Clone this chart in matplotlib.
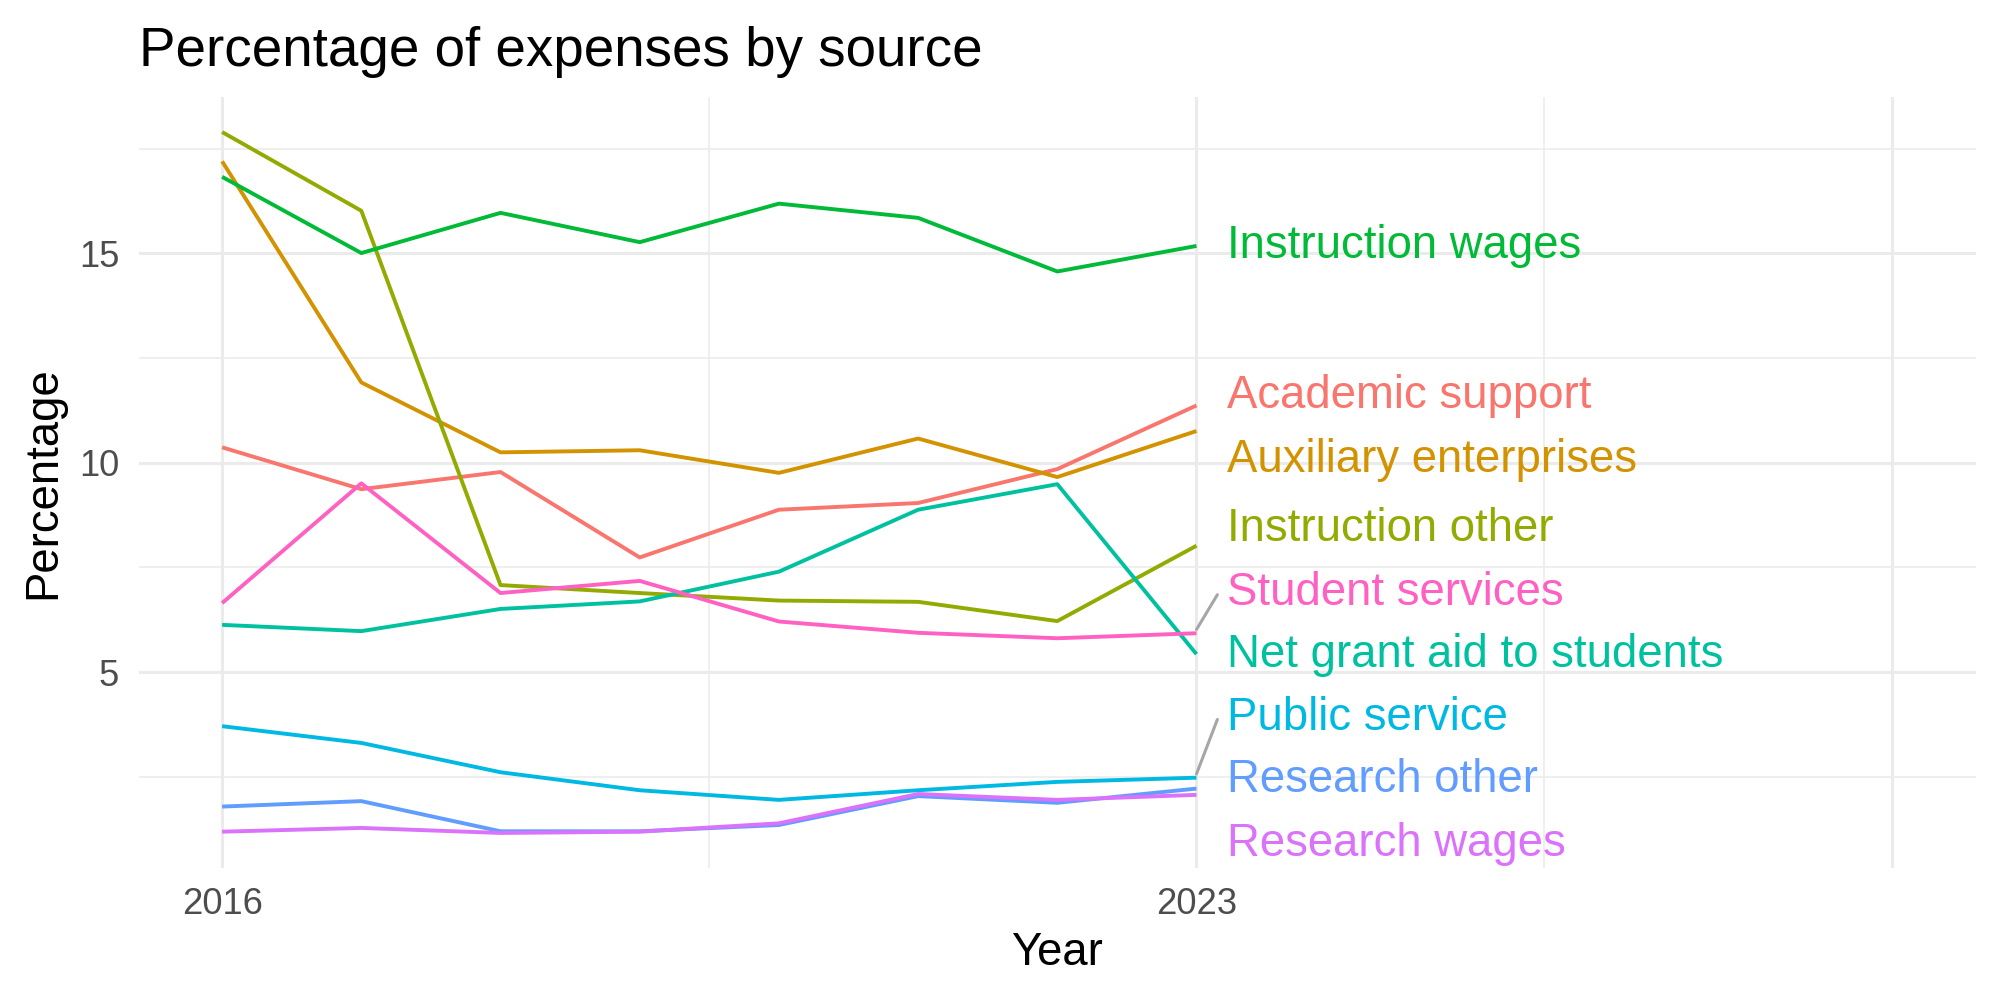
import numpy as np
import matplotlib
matplotlib.use("Agg")
import matplotlib.pyplot as plt

plt.rcParams['font.family'] = ['Liberation Sans', 'DejaVu Sans']

years = [2016, 2017, 2018, 2019, 2020, 2021, 2022, 2023]

sources = ["Academic support", "Auxiliary enterprises", "Instruction other",
           "Instruction wages", "Net grant aid to students", "Public service",
           "Research other", "Research wages", "Student services"]

academic_support = [10.37, 9.37, 9.78, 7.74, 8.88, 9.04, 9.85, 11.37]
auxiliary_enterprises = [17.20, 11.92, 10.25, 10.30, 9.76, 10.58, 9.66, 10.76]
instruction_other = [17.90, 16.02, 7.08, 6.89, 6.71, 6.68, 6.22, 8.02]
instruction_wages = [16.83, 15.01, 15.97, 15.27, 16.19, 15.85, 14.57, 15.18]
net_grant_aid = [6.13, 5.98, 6.51, 6.69, 7.40, 8.88, 9.49, 5.43]
public_service = [3.71, 3.31, 2.61, 2.18, 1.95, 2.18, 2.38, 2.48]
research_other = [1.79, 1.92, 1.20, 1.20, 1.35, 2.04, 1.88, 2.22]
research_wages = [1.19, 1.28, 1.16, 1.19, 1.39, 2.09, 1.95, 2.07]
student_services = [6.65, 9.51, 6.89, 7.18, 6.21, 5.94, 5.81, 5.93]

values = [academic_support, auxiliary_enterprises, instruction_other,
          instruction_wages, net_grant_aid, public_service,
          research_other, research_wages, student_services]

# ggplot hue palette for 9 groups
colors = ["#F8766D", "#D39200", "#93AA00", "#00BA38", "#00C19F",
          "#00B9E3", "#619CFF", "#DB72FB", "#FF61C3"]

# repelled label positions (y, in data units) and which ones got a segment
label_y = [11.59, 10.06, 8.41, 15.18, 5.40, 3.91, 2.42, 0.90, 6.89]
has_segment = [False, False, False, False, False, True, False, False, True]
label_x = 2023.22

x_breaks = [2016, 2023, 2028]
x_labels = ["2016", "2023", ""]

fig = plt.figure(figsize=(10, 5), dpi=200)
ax = fig.add_axes([0.0693, 0.132, 0.9187, 0.771])

lo, hi = 2016, 2028
pad = (hi - lo) * 0.05
ax.set_xlim(lo - pad, hi + pad)
allv = np.concatenate([np.asarray(v) for v in values])
ypad = (allv.max() - allv.min()) * 0.05
ax.set_ylim(allv.min() - ypad, allv.max() + ypad)

# grid
ax.set_xticks(x_breaks)
ax.set_xticklabels(x_labels)
ax.set_xticks([(a + b) / 2 for a, b in zip(x_breaks[:-1], x_breaks[1:])], minor=True)
ax.set_yticks([5, 10, 15])
ax.set_yticks([2.5, 7.5, 12.5, 17.5], minor=True)
ax.grid(which="major", color="#EBEBEB", linewidth=1.1)
ax.grid(which="minor", color="#EBEBEB", linewidth=0.55)
ax.set_axisbelow(True)
for s in ax.spines.values():
    s.set_visible(False)
ax.tick_params(which="both", length=0, labelsize=13.1, labelcolor="#4D4D4D")
ax.tick_params(axis="x", pad=7)
ax.tick_params(axis="y", pad=7)

for name, v, c in zip(sources, values, colors):
    ax.plot(years, v, color=c, linewidth=1.4, solid_capstyle="butt", zorder=3)

for name, v, c, ly, seg in zip(sources, values, colors, label_y, has_segment):
    last = v[-1]
    if seg:
        # connector segment like ggrepel
        ax.plot([years[-1], label_x - 0.07], [last + 0.09, ly - 0.04],
                color="#A6A6A6", linewidth=1.1, solid_capstyle="round", zorder=2)
    ax.text(label_x, ly, name, color=c, fontsize=16.4, ha="left", va="center")

ax.set_xlabel("Year", fontsize=16.4, labelpad=3)
ax.set_ylabel("Percentage", fontsize=16.4, labelpad=5)
ax.set_title("Percentage of expenses by source", fontsize=19.7, loc="left", pad=11)

fig.savefig("out.png", dpi=200)
